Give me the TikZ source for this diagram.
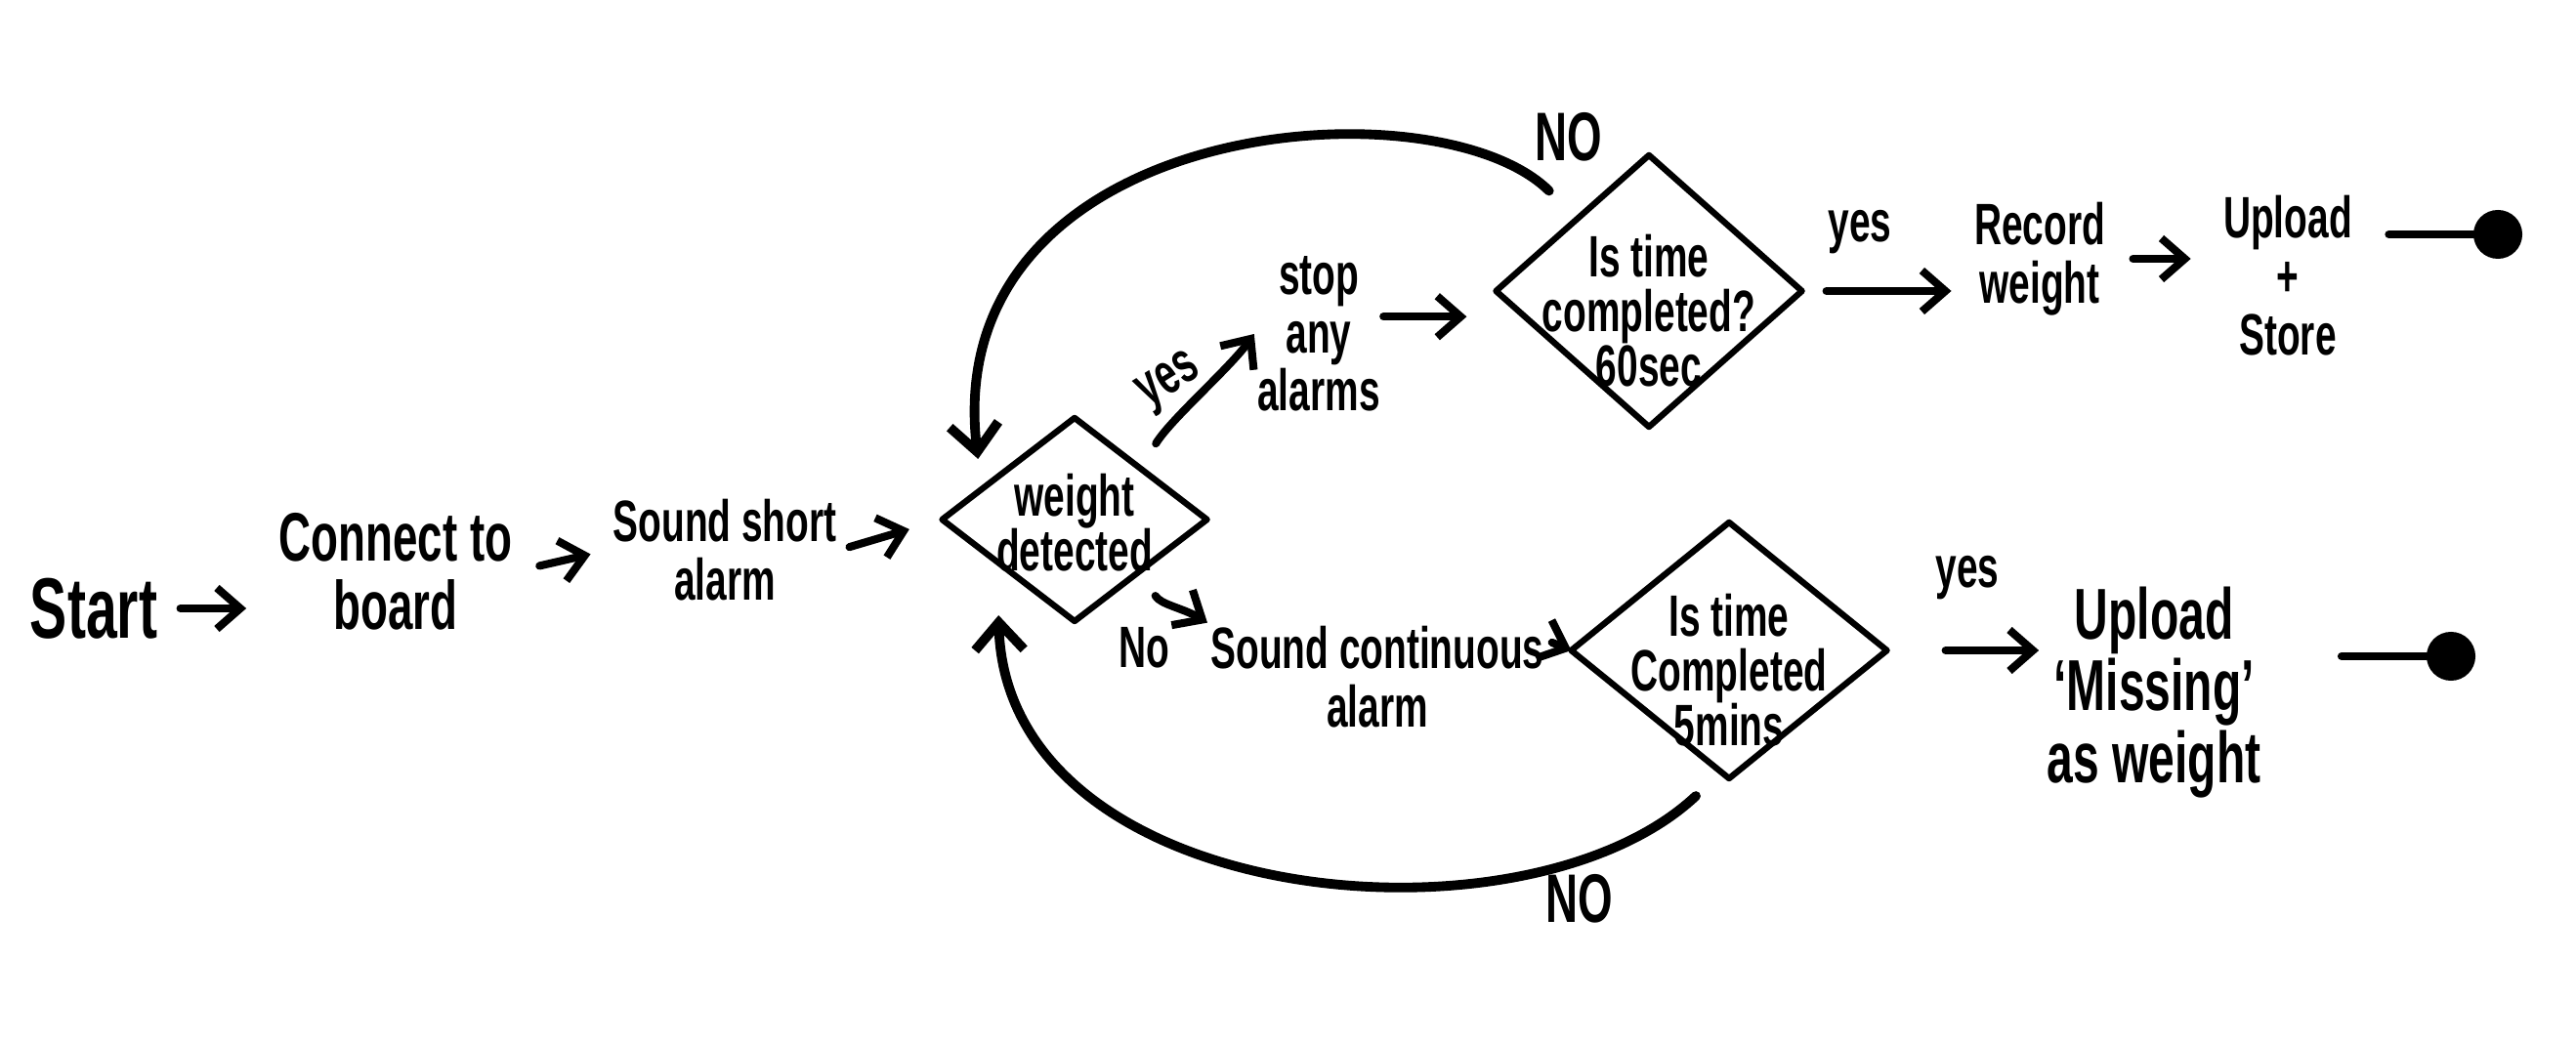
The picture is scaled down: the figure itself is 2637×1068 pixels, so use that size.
\documentclass[tikz,border=0pt]{standalone}
\usepackage{fontspec}
\setmainfont{Liberation Sans}[FakeStretch=0.65]
\usetikzlibrary{arrows.meta,shapes.geometric,calc}
\begin{document}
\begin{tikzpicture}[x=0.01cm,y=-0.01cm,
  txt/.style={font=\bfseries\fontsize{17}{17}\selectfont, align=center, inner sep=1pt, outer sep=0pt},
  dtxt/.style={font=\bfseries\fontsize{17}{16}\selectfont, align=center, inner sep=1pt, outer sep=0pt},
  decision/.style={draw, diamond, line width=1.8pt, line join=round, inner sep=0pt, outer sep=0pt},
  arr/.style={line width=2.3pt, line cap=round, line join=round, -{Straight Barb[length=2.4mm,width=4.2mm]}},
  loopline/.style={line width=2.8pt, line cap=round, line join=round, -{Straight Barb[length=2.8mm,width=5mm]}},
  plainline/.style={line width=2.3pt, line cap=round},
  enddot/.style={circle, fill, inner sep=0pt, outer sep=0pt, minimum size=0.5cm},
]
\fill[white] (0,0) rectangle (2637,1068);
\useasboundingbox (0,0) rectangle (2637,1068);

% nodes
\node[txt, font=\bfseries\fontsize{25}{28}\selectfont] (start) at (96,623) {Start};
\node[txt, font=\bfseries\fontsize{20}{20}\selectfont] (connect) at (405,585) {Connect to\\board};
\node[txt] (sshort) at (742,563) {Sound short\\alarm};
\node[decision, minimum width=2.71cm, minimum height=2.08cm,
      label={[dtxt,name=wdtxt,yshift=-0.03cm]center:{weight\\detected}}] (wd) at (1100,532) {};
\node[txt] (stop) at (1350,342) {stop\\any\\alarms};
\node[decision, minimum width=3.13cm, minimum height=2.78cm,
      label={[dtxt,name=t60txt,yshift=-0.2cm]center:{Is time\\completed?\\60sec}}] (t60) at (1688,298) {};
\node[txt] (record) at (2088,265) {Record\\weight};
\node[txt] (upstore) at (2342,282) {Upload\\+\\Store};
\node[enddot] (end1) at (2557,240) {};
\node[txt] (scont) at (1410,693) {Sound continuous\\alarm};
\node[decision, minimum width=3.23cm, minimum height=2.62cm,
      label={[dtxt,name=t5txt,yshift=-0.2cm]center:{Is time\\Completed\\5mins}}] (t5) at (1770,666) {};
\node[txt, font=\bfseries\fontsize{21}{21}\selectfont] (upmiss) at (2205,709) {Upload\\‘Missing’\\as weight};
\node[enddot] (end2) at (2509,672) {};

% edge labels
\node[txt, rotate=32] (yes1) at (1198,392) {yes};
\node[txt, font=\bfseries\fontsize{20}{20}\selectfont] (no1) at (1606,140) {NO};
\node[txt] (yes2) at (1904,238) {yes};
\node[txt] (yes3) at (2014,592) {yes};
\node[txt] (no2) at (1171,663) {No};
\node[txt, font=\bfseries\fontsize{20}{20}\selectfont] (no3) at (1617,920) {NO};

% connectors
\draw[arr, shorten <=0.2cm, shorten >=0.3cm] (start.east) -- (start.east -| connect.west);
\draw[arr, shorten <=0.25cm, shorten >=0.2cm] (connect.east) -- (sshort.west);
\draw[arr, shorten <=0.1cm, shorten >=0.35cm] (sshort.east) -- (wd.west);
\draw[arr, shorten <=0.3cm] (wd.north east) .. controls +(30,-50) and +(-25,35) .. (stop.west);
\draw[arr, shorten >=0.3cm] (stop.15) -- (stop.15 -| t60.west);
\draw[arr, shorten <=0.25cm, shorten >=0.2cm] (t60.east) -- (t60.east -| record.west);
\draw[arr, shorten <=0.25cm, shorten >=0.3cm] (record.east) -- (record.east -| upstore.west);
\draw[plainline, shorten <=0.34cm] (end1 -| upstore.east) -- (end1);
\draw[arr, shorten <=0.3cm] (wd.south east) .. controls +(20,35) and +(-25,-15) .. (scont.north west);
\draw[arr, shorten <=0.05cm] (scont.12) -- (t5.west);
\draw[arr, shorten <=0.6cm, shorten >=0.05cm] (t5.east) -- (t5.east -| upmiss.west);
\draw[plainline, shorten <=0.79cm] (end2 -| upmiss.east) -- (end2);

% loops
\draw[loopline] ([shift={(-24,-33)}]t60.north west) .. controls +(-116,-115) and +(-41,-350) .. ([shift={(-31,-10)}]wd.north west);
\draw[loopline] ([shift={(-34,18)}]t5.south) .. controls +(-176,165) and +(8,300) .. ([shift={(-10,46)}]wd.south west);
\end{tikzpicture}
\end{document}
